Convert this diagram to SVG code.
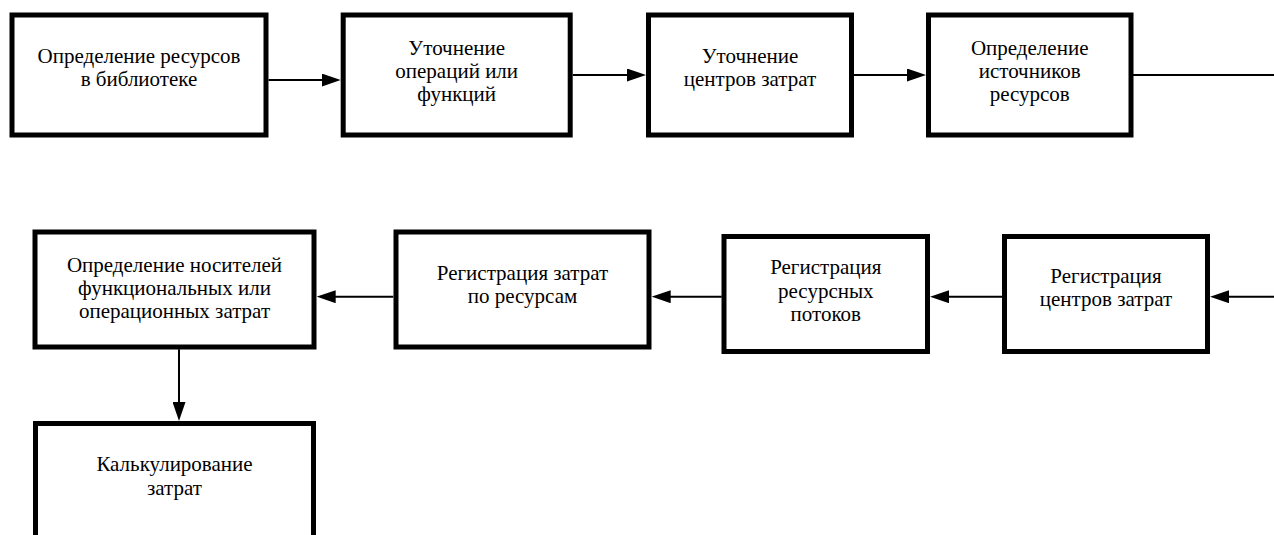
<svg xmlns="http://www.w3.org/2000/svg" width="1274" height="535" viewBox="0 0 1274 535">
<style>
.box{fill:#fff;stroke:#000;stroke-width:5}
.t{font-family:"Liberation Serif","Times New Roman",serif;font-size:21px;fill:#000;text-anchor:middle}
.c{stroke:#000;stroke-width:2;fill:none}
</style>
<defs>
<marker id="ah" markerUnits="userSpaceOnUse" markerWidth="19" markerHeight="13" refX="9" refY="6.5" orient="auto">
<path d="M0,0 L19,6.5 L0,13 Z" fill="#000"/>
</marker>
</defs>
<rect width="1274" height="535" fill="#fff"/>
<g id="connectors">
<line class="c" x1="268.5" y1="80" x2="330.7" y2="80" marker-end="url(#ah)"/>
<line class="c" x1="572.7" y1="75" x2="636" y2="75" marker-end="url(#ah)"/>
<line class="c" x1="854" y1="75" x2="916" y2="75" marker-end="url(#ah)"/>
<line class="c" x1="1133" y1="75" x2="1274" y2="75"/>
<line class="c" x1="1274" y1="296.7" x2="1220" y2="296.7" marker-end="url(#ah)"/>
<line class="c" x1="1002" y1="296.7" x2="940" y2="296.7" marker-end="url(#ah)"/>
<line class="c" x1="721.7" y1="296.7" x2="661.7" y2="296.7" marker-end="url(#ah)"/>
<line class="c" x1="393.3" y1="296.7" x2="326.7" y2="296.7" marker-end="url(#ah)"/>
<line class="c" x1="179" y1="349.3" x2="179" y2="411" marker-end="url(#ah)"/>
</g>
<g id="n1">
<rect class="box" x="12" y="15" width="254" height="120"/>
<text class="t" x="139" y="63.3">Определение ресурсов</text>
<text class="t" x="139" y="86.3">в библиотеке</text>
</g>
<g id="n2">
<rect class="box" x="343.2" y="15" width="227" height="120"/>
<text class="t" x="456.7" y="55">Уточнение</text>
<text class="t" x="456.7" y="78">операций или</text>
<text class="t" x="456.7" y="101">функций</text>
</g>
<g id="n3">
<rect class="box" x="648.5" y="15" width="203" height="120"/>
<text class="t" x="750" y="62.7">Уточнение</text>
<text class="t" x="750" y="85.7">центров затрат</text>
</g>
<g id="n4">
<rect class="box" x="928.5" y="15" width="202.5" height="120"/>
<text class="t" x="1029.7" y="55">Определение</text>
<text class="t" x="1029.7" y="78">источников</text>
<text class="t" x="1029.7" y="101">ресурсов</text>
</g>
<g id="n5">
<rect class="box" x="35" y="232" width="279" height="115"/>
<text class="t" x="174.5" y="271.7">Определение носителей</text>
<text class="t" x="174.5" y="295">функциональных или</text>
<text class="t" x="174.5" y="318.3">операционных затрат</text>
</g>
<g id="n6">
<rect class="box" x="396" y="232" width="253" height="115"/>
<text class="t" x="522.5" y="280">Регистрация затрат</text>
<text class="t" x="522.5" y="303">по ресурсам</text>
</g>
<g id="n7">
<rect class="box" x="724" y="236.5" width="203.5" height="115"/>
<text class="t" x="825.8" y="274.3">Регистрация</text>
<text class="t" x="825.8" y="297.6">ресурсных</text>
<text class="t" x="825.8" y="321">потоков</text>
</g>
<g id="n8">
<rect class="box" x="1004.5" y="236.5" width="203" height="115"/>
<text class="t" x="1106" y="282.7">Регистрация</text>
<text class="t" x="1106" y="306">центров затрат</text>
</g>
<g id="n9">
<rect class="box" x="35.5" y="423.5" width="278" height="200"/>
<text class="t" x="174.5" y="470.7">Калькулирование</text>
<text class="t" x="174.5" y="494.5">затрат</text>
</g>
</svg>
